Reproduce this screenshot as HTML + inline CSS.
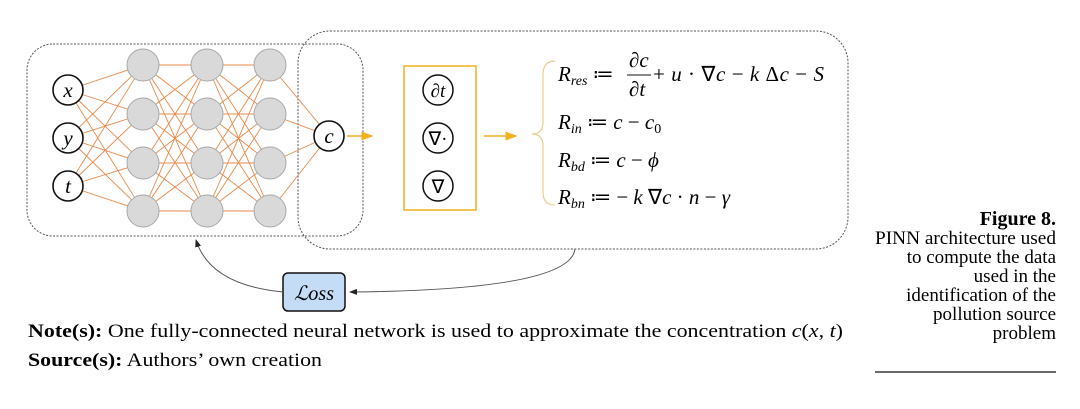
<!DOCTYPE html>
<html><head><meta charset="utf-8"><style>
body{margin:0;background:#fff;}
svg{display:block;}
.m{font-family:"Liberation Serif",serif;font-style:italic;}
.t{font-family:"Liberation Serif",serif;}
</style></head><body>
<svg width="1080" height="409" viewBox="0 0 1080 409" xmlns="http://www.w3.org/2000/svg">
<defs>
<marker id="ya" markerWidth="8" markerHeight="8" refX="7" refY="4" orient="auto"><path d="M0,1 L8,4 L0,7 z" fill="#f0b020"/></marker>
<marker id="ka" markerWidth="8" markerHeight="8" refX="7" refY="4" orient="auto"><path d="M0,1 L8,4 L0,7 z" fill="#222"/></marker>
</defs>
<rect x="27" y="44" width="336" height="192" rx="26" fill="none" stroke="#555" stroke-dasharray="2,1.5" stroke-width="1"/>
<rect x="298" y="31" width="550" height="218" rx="32" fill="none" stroke="#555" stroke-dasharray="2,1.5" stroke-width="1"/>
<g stroke="#e8894a" stroke-width="0.9">
<path d="M68,90L143,65M68,90L143,114M68,90L143,163M68,90L143,211M68,138L143,65M68,138L143,114M68,138L143,163M68,138L143,211M68,186L143,65M68,186L143,114M68,186L143,163M68,186L143,211"/>
<path d="M143,65L207,65M143,65L207,114M143,65L207,163M143,65L207,211M143,114L207,65M143,114L207,114M143,114L207,163M143,114L207,211M143,163L207,65M143,163L207,114M143,163L207,163M143,163L207,211M143,211L207,65M143,211L207,114M143,211L207,163M143,211L207,211"/>
<path d="M207,65L270,65M207,65L270,114M207,65L270,163M207,65L270,211M207,114L270,65M207,114L270,114M207,114L270,163M207,114L270,211M207,163L270,65M207,163L270,114M207,163L270,163M207,163L270,211M207,211L270,65M207,211L270,114M207,211L270,163M207,211L270,211"/>
<path d="M270,65L329,136M270,114L329,136M270,163L329,136M270,211L329,136"/>
</g>
<g fill="#fff" stroke="#111" stroke-width="1.6">
<circle cx="68" cy="90" r="15"/><circle cx="68" cy="138" r="15"/><circle cx="68" cy="186" r="15"/>
<circle cx="329" cy="136" r="15"/>
</g>
<g fill="#d9d9d9" stroke="#a8a8a8" stroke-width="1">
<circle cx="143" cy="65" r="16"/><circle cx="143" cy="114" r="16"/><circle cx="143" cy="163" r="16"/><circle cx="143" cy="211" r="16"/>
<circle cx="207" cy="65" r="16"/><circle cx="207" cy="114" r="16"/><circle cx="207" cy="163" r="16"/><circle cx="207" cy="211" r="16"/>
<circle cx="270" cy="65" r="16"/><circle cx="270" cy="114" r="16"/><circle cx="270" cy="163" r="16"/><circle cx="270" cy="211" r="16"/>
</g>
<g class="m" font-size="21" text-anchor="middle">
<text x="68" y="97">x</text><text x="68" y="145">y</text><text x="68" y="193">t</text><text x="329" y="143">c</text>
</g>
<line x1="347" y1="136" x2="372" y2="136" stroke="#f0b020" stroke-width="1.5" marker-end="url(#ya)"/>
<rect x="404" y="66" width="72" height="144" fill="none" stroke="#f0b020" stroke-width="1.5"/>
<g fill="#fff" stroke="#111" stroke-width="1.5">
<circle cx="438" cy="90" r="15"/><circle cx="438" cy="138" r="15"/><circle cx="438" cy="186" r="15"/>
</g>
<g class="m" font-size="19" text-anchor="middle">
<text x="438" y="97">∂t</text><text x="438" y="145" style="font-style:normal">∇·</text><text x="438" y="193" style="font-style:normal">∇</text>
</g>
<line x1="484" y1="136" x2="516" y2="136" stroke="#f0b020" stroke-width="1.5" marker-end="url(#ya)"/>
<path d="M555,61 Q543,61 543,75 L543,122 Q543,134 532,134 Q543,134 543,146 L543,192 Q543,205 555,205" fill="none" stroke="#e6cf90" stroke-width="1.2"/>
<g class="m" font-size="21">
<text x="558" y="81">R<tspan font-size="14" dy="4">res</tspan><tspan dy="-4" style="font-style:normal"> ≔ </tspan></text>
<text x="629" y="67">∂c</text>
<line x1="627" y1="75" x2="651" y2="75" stroke="#111" stroke-width="1"/>
<text x="629" y="96">∂t</text>
<text x="653" y="81" textLength="171"><tspan style="font-style:normal">+</tspan> u <tspan style="font-style:normal">· ∇</tspan>c <tspan style="font-style:normal">−</tspan> k <tspan style="font-style:normal">Δ</tspan>c <tspan style="font-style:normal">−</tspan> S</text>
<text x="558" y="129">R<tspan font-size="14" dy="4">in</tspan><tspan dy="-4" style="font-style:normal"> ≔ </tspan> c <tspan style="font-style:normal">− </tspan>c<tspan font-size="14" dy="4" style="font-style:normal">0</tspan></text>
<text x="558" y="167">R<tspan font-size="14" dy="4">bd</tspan><tspan dy="-4" style="font-style:normal"> ≔ </tspan> c <tspan style="font-style:normal">−</tspan> ϕ</text>
<text x="558" y="204">R<tspan font-size="14" dy="4">bn</tspan><tspan dy="-4" style="font-style:normal"> ≔ − </tspan>k <tspan style="font-style:normal">∇</tspan>c <tspan style="font-style:normal">·</tspan> n <tspan style="font-style:normal">−</tspan> γ</text>
</g>
<rect x="283" y="273" width="62" height="38" rx="5" fill="#c5dcf7" stroke="#111" stroke-width="1.5"/>
<text x="314" y="300" class="m" font-size="20" text-anchor="middle">ℒoss</text>
<path d="M575,249 Q570,290 350,292" fill="none" stroke="#555" stroke-width="1" marker-end="url(#ka)"/>
<path d="M283,292 Q210,285 196,240" fill="none" stroke="#555" stroke-width="1" marker-end="url(#ka)"/>
<text x="28" y="337" class="t" font-size="19" textLength="815" lengthAdjust="spacingAndGlyphs"><tspan font-weight="bold">Note(s):</tspan> One fully-connected neural network is used to approximate the concentration <tspan font-style="italic">c</tspan>(<tspan font-style="italic">x</tspan>, <tspan font-style="italic">t</tspan>)</text>
<text x="28" y="366" class="t" font-size="19" textLength="294" lengthAdjust="spacingAndGlyphs"><tspan font-weight="bold">Source(s):</tspan> Authors’ own creation</text>
<g class="t" font-size="19" text-anchor="end">
<text x="1056" y="225" font-weight="bold" font-size="20">Figure 8.</text>
<text x="1056" y="244" textLength="181" lengthAdjust="spacingAndGlyphs">PINN architecture used</text>
<text x="1056" y="263">to compute the data</text>
<text x="1056" y="282">used in the</text>
<text x="1056" y="301">identification of the</text>
<text x="1056" y="320">pollution source</text>
<text x="1056" y="339">problem</text>
</g>
<line x1="875" y1="372" x2="1056" y2="372" stroke="#111" stroke-width="1.3"/>
</svg>
</body></html>
